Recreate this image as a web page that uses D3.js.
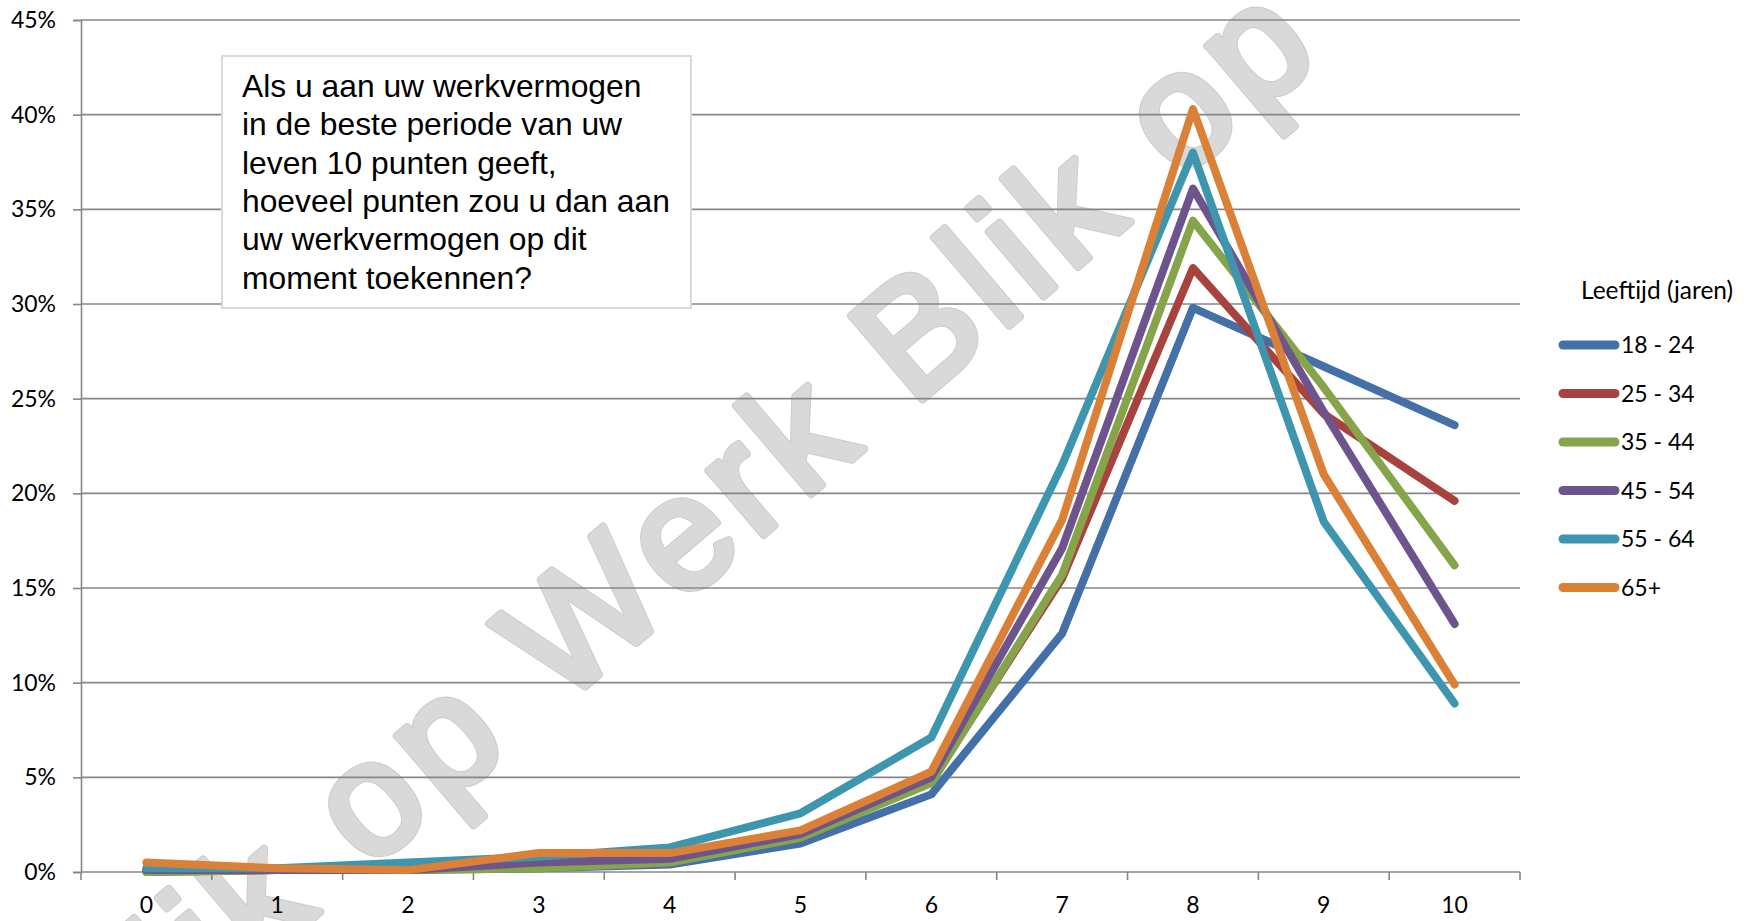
<!DOCTYPE html>
<html>
<head>
<meta charset="utf-8">
<script src="https://cdn.jsdelivr.net/npm/d3@7"></script>
<style>
    body { margin: 0; background: #fff; }
    svg { display: block; }
</style>
</head>
<body>
<div id="chart"></div>
<script>
// Data (percent of respondents per score)
const scores = [0, 1, 2, 3, 4, 5, 6, 7, 8, 9, 10];
const ageGroups = ["18 - 24", "25 - 34", "35 - 44", "45 - 54", "55 - 64", "65+"];
const colors = ["#4470a8", "#a8423f", "#86a44a", "#6e548d", "#3d96ae", "#da8137"];

const age18_24 = [0.1, 0.1, 0.1, 0.2, 0.4, 1.5, 4.1, 12.6, 29.8, 26.7, 23.6];
const age25_34 = [0.0, 0.1, 0.1, 0.3, 0.6, 1.8, 4.8, 15.5, 31.9, 24.2, 19.6];
const age35_44 = [0.0, 0.1, 0.1, 0.2, 0.5, 1.8, 4.7, 15.7, 34.4, 25.6, 16.2];
const age45_54 = [0.1, 0.1, 0.1, 0.5, 0.7, 2.0, 5.0, 17.1, 36.1, 24.3, 13.1];
const age55_64 = [0.2, 0.2, 0.5, 0.8, 1.3, 3.1, 7.1, 21.5, 38.0, 18.5, 8.9];
const age65plus = [0.5, 0.2, 0.1, 1.0, 1.0, 2.2, 5.3, 18.6, 40.3, 21.0, 9.9];

const yTicks = [0, 5, 10, 15, 20, 25, 30, 35, 40, 45];
const legendTitle = "Leeftijd (jaren)";
const questionLines = [
    "Als u aan uw werkvermogen",
    "in de beste periode van uw",
    "leven 10 punten geeft,",
    "hoeveel punten zou u dan aan",
    "uw werkvermogen op dit",
    "moment toekennen?"
];
const watermark = "Blik op Werk Blik op";

const seriesValues = [age18_24, age25_34, age35_44, age45_54, age55_64, age65plus];

document.addEventListener('DOMContentLoaded', function() {
    const width = 1758;
    const height = 921;
    const left = 81, right = 1520, top = 20, bottom = 872;
    const labelFont = "Lato, 'Open Sans', sans-serif";

    const svg = d3.select('#chart')
        .append('svg')
        .attr('width', width)
        .attr('height', height);

    // Scales
    const x = d3.scaleBand()
        .domain(scores)
        .range([left, right]);

    const y = d3.scaleLinear()
        .domain([0, 45])
        .range([bottom, top]);

    // Watermark behind everything (regular weight + round stroke = rounded bold look)
    const wm = svg.append('g')
        .attr('transform', 'translate(560,708) rotate(-40.4)');

    const wmStyle = sel => sel
        .attr('font-family', "'Liberation Sans', Arial, sans-serif")
        .attr('font-size', 160)
        .attr('letter-spacing', 9.6)
        .attr('stroke-linejoin', 'round')
        .attr('stroke-linecap', 'round')
        .text(watermark);

    const wmOutline = wm.append('text')
        .call(wmStyle)
        .attr('fill', '#cbcbcb')
        .attr('stroke', '#cbcbcb')
        .attr('stroke-width', 8);

    const wmFill = wm.append('text')
        .call(wmStyle)
        .attr('fill', '#d9d9d9')
        .attr('stroke', '#d9d9d9')
        .attr('stroke-width', 6);

    // shift so that "Werk" starts at the translate origin
    const offset = wmOutline.node().getStartPositionOfChar(8).x;
    wmOutline.attr('x', -offset);
    wmFill.attr('x', -offset);

    // Gridlines
    svg.append('g')
        .selectAll('line')
        .data(yTicks)
        .join('line')
        .attr('x1', left)
        .attr('x2', right)
        .attr('y1', d => y(d))
        .attr('y2', d => y(d))
        .attr('stroke', '#868686')
        .attr('stroke-width', 1.6);

    // Y axis
    const yAxis = svg.append('g')
        .attr('transform', `translate(${left},0)`)
        .call(d3.axisLeft(y)
            .tickValues(yTicks)
            .tickFormat(d => d + '%')
            .tickSize(8)
            .tickPadding(17));

    yAxis.select('.domain').attr('stroke', '#868686').attr('stroke-width', 1.6);
    yAxis.selectAll('.tick line').attr('stroke', '#868686').attr('stroke-width', 1.6);
    yAxis.selectAll('text')
        .attr('font-family', labelFont)
        .attr('font-size', 23)
        .attr('fill', '#000');

    // X axis: labels centred on categories, ticks between categories
    const xAxis = svg.append('g')
        .attr('transform', `translate(0,${bottom})`)
        .call(d3.axisBottom(x)
            .tickSize(0)
            .tickPadding(25));

    xAxis.select('.domain').remove();
    xAxis.selectAll('text')
        .attr('font-family', labelFont)
        .attr('font-size', 23)
        .attr('fill', '#000');

    svg.append('g')
        .selectAll('line')
        .data(scores.map(d => x(d)).concat([right]))
        .join('line')
        .attr('x1', d => d)
        .attr('x2', d => d)
        .attr('y1', bottom)
        .attr('y2', bottom + 8)
        .attr('stroke', '#868686')
        .attr('stroke-width', 1.6);

    // Question box
    svg.append('rect')
        .attr('x', 222)
        .attr('y', 56)
        .attr('width', 469)
        .attr('height', 252)
        .attr('fill', '#fff')
        .attr('stroke', '#d9d9d9')
        .attr('stroke-width', 2);

    svg.append('text')
        .attr('font-family', "'Liberation Sans', Arial, sans-serif")
        .attr('font-size', 31.8)
        .attr('fill', '#000')
        .selectAll('tspan')
        .data(questionLines)
        .join('tspan')
        .attr('x', 242)
        .attr('y', (d, i) => 97 + i * 38.3)
        .text(d => d);

    // Lines
    const line = d3.line()
        .x((d, i) => x(scores[i]) + x.bandwidth() / 2)
        .y(d => y(d));

    svg.append('g')
        .selectAll('path')
        .data(seriesValues)
        .join('path')
        .attr('d', line)
        .attr('fill', 'none')
        .attr('stroke', (d, i) => colors[i])
        .attr('stroke-width', 8)
        .attr('stroke-linejoin', 'round')
        .attr('stroke-linecap', 'round');

    // Legend
    const legend = svg.append('g')
        .attr('font-family', labelFont)
        .attr('font-size', 23);

    legend.append('text')
        .attr('x', 1581)
        .attr('y', 299)
        .attr('font-size', 24.5)
        .attr('fill', '#000')
        .text(legendTitle);

    const items = legend.selectAll('g.item')
        .data(ageGroups)
        .join('g')
        .attr('class', 'item')
        .attr('transform', (d, i) => `translate(0,${345 + i * 48.5})`);

    items.append('line')
        .attr('x1', 1563)
        .attr('x2', 1615)
        .attr('stroke', (d, i) => colors[i])
        .attr('stroke-width', 9)
        .attr('stroke-linecap', 'round');

    items.append('text')
        .attr('x', 1621)
        .attr('dy', '0.35em')
        .attr('fill', '#000')
        .text(d => d);
});
</script>
</body>
</html>
